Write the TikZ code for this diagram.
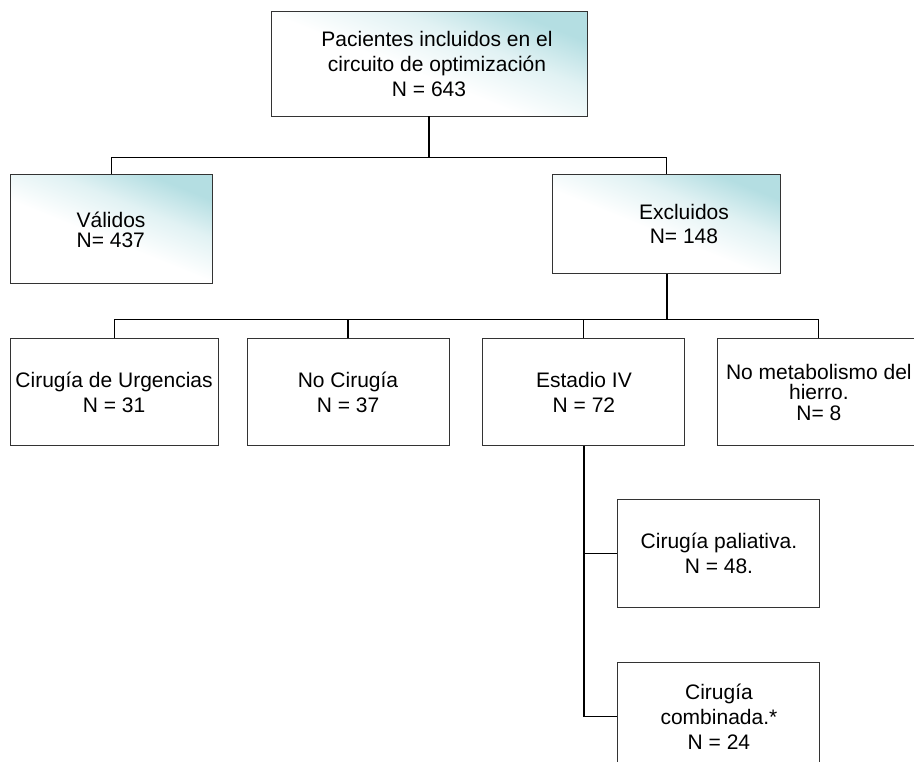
\documentclass[tikz,border=0pt]{standalone}
\usepackage{fontspec}
\setmainfont{Liberation Sans}
\usetikzlibrary{positioning}
\definecolor{tealClaro}{RGB}{180,222,226}
\pgfdeclareverticalshading{desvanecido}{100bp}{%
	color(0bp)=(white); color(46bp)=(white); color(61bp)=(tealClaro!40!white);
	color(74bp)=(tealClaro); color(100bp)=(tealClaro)}
\tikzset{%
	% estilos de las cajas
	base/.style = {rectangle, draw=black!80, line width=0.7pt, inner sep=2pt,
		align=center, font=\fontsize{15.75pt}{18.75pt}\selectfont},
	cajaGrad/.style = {base, shade, shading=desvanecido, shading angle=-22},
	cajaBlanca/.style = {base, fill=white, minimum width=151.5pt, minimum height=80.25pt},
	% estilos de las lineas
	rama/.style = {draw=black, line width=0.8pt},
	tronco/.style = {rama, line width=1.1pt}
}

\begin{document}
\begin{tikzpicture}[x=0.75pt, y=-0.75pt]
		\useasboundingbox (0,0) rectangle (914,761);
		\node (pacientes) [cajaGrad, minimum width=237pt, minimum height=78.75pt] at (429,63.5) {\hspace*{12pt}Pacientes incluidos en el\\ \hspace*{12pt}circuito de optimización\\ N = 643};
		\node (validos) [cajaGrad, minimum width=151.5pt, minimum height=81.75pt, align=left, font=\fontsize{15.75pt}{15pt}\selectfont, below left=43.5pt and 43.5pt of pacientes] {Válidos\\ N= 437};
		\node (excluidos) [cajaGrad, minimum width=171pt, minimum height=74.25pt, font=\fontsize{15.75pt}{18pt}\selectfont, below right=43.5pt and -26.25pt of pacientes] {\hspace*{25.5pt}Excluidos\\ \hspace*{25.5pt}N= 148};
		
		\node (urgencias) [cajaBlanca, minimum width=156pt, below=40.5pt of validos, xshift=2.25pt] {Cirugía de Urgencias\\ N = 31};
		\node (noCirugia) [cajaBlanca, right=21pt of urgencias] {No Cirugía\\ N = 37};
		\node (estadio) [cajaBlanca, right=24.75pt of noCirugia] {Estadio IV\\ N = 72};
		\node (hierro) [cajaBlanca, right=24pt of estadio, font=\fontsize{15.75pt}{15.4pt}\selectfont] {No metabolismo del\\ hierro.\\ N= 8};
		
		\node (paliativa) [cajaBlanca, minimum height=81pt, below=39.75pt of estadio, xshift=101.25pt] {Cirugía paliativa.\\ N = 48.};
		\node (combinada) [cajaBlanca, minimum height=81pt, below=40.5pt of paliativa] {Cirugía\\ combinada.*\\ N = 24};
		
		\draw[rama] (pacientes.south) -- ++(0,41) coordinate (barraSup);
		\draw[rama] (validos.north) |- (barraSup) -| (excluidos.north);
		\draw[tronco] (excluidos.south) -- ++(0,45) coordinate (barraInf);
		\draw[rama] (urgencias.north) |- (barraInf) -| (hierro.north);
		\draw[rama] (noCirugia.north) -- (noCirugia.north |- barraInf);
		\draw[rama] (estadio.north) -- (estadio.north |- barraInf);
		\draw[tronco] (estadio.south) |- (combinada.west);
		\draw[rama] (estadio.south |- paliativa.west) -- (paliativa.west);
	\end{tikzpicture}
\end{document}
